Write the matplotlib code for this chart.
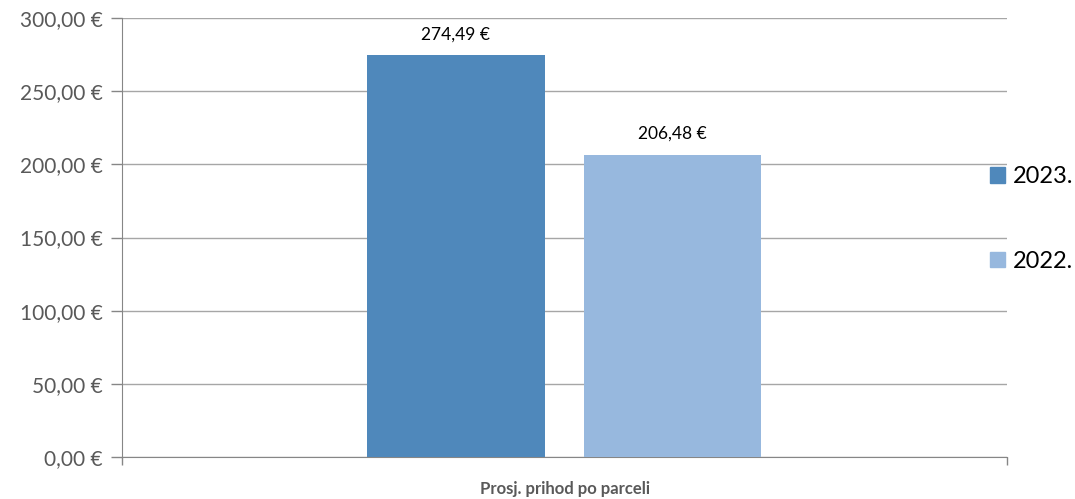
import matplotlib
matplotlib.use("Agg")
import matplotlib.pyplot as plt
from matplotlib.patches import Patch

category = "Prosj. prihod po parceli"
series_names = ["2023.", "2022."]
values = [274.49, 206.48]
colors = ["#4F88BB", "#97B8DE"]
yticks = [0, 50, 100, 150, 200, 250, 300]


def eur(v):
    return f"{v:,.2f} €".replace(",", "X").replace(".", ",").replace("X", ".")


plt.rcParams['font.family'] = ['Lato', 'DejaVu Sans']

fig = plt.figure(figsize=(10.75, 4.99), dpi=100)
ax = fig.add_axes([122/1075, 1-457/499, (1007-122)/1075, (457-18)/499])

width = 0.201
offsets = [-0.1226, 0.1220]
for name, v, c, off in zip(series_names, values, colors, offsets):
    ax.bar(off, v, width=width, color=c, label=name, zorder=3)
    ax.text(off, v + 9, eur(v), ha='center', va='bottom', fontsize=12.5, color='black')

ax.set_xlim(-0.5, 0.5)
ax.set_ylim(0, 300)
ax.set_yticks(yticks)
ax.set_yticklabels([eur(t) for t in yticks], fontsize=15, color='#595959')
ax.yaxis.grid(True, color='#A6A6A6', linewidth=1, zorder=0)
ax.set_xticks([-0.5, 0.5])
ax.set_xticklabels(["", ""])
ax.tick_params(axis='x', length=6, color='#868686', width=1)
ax.tick_params(axis='y', length=8, color='#868686', width=1, pad=6)
for s in ['top', 'right']:
    ax.spines[s].set_visible(False)
ax.spines['left'].set_color('#868686')
ax.spines['bottom'].set_color('#868686')
ax.text(0.5, -0.072, category, transform=ax.transAxes, ha='center', va='center',
        fontsize=12, fontweight='bold', color='#595959')

handles = [Patch(color=c) for c in colors]
fig.legend(handles, series_names, loc='center left', bbox_to_anchor=(990/1075, 1-219/499),
           frameon=False, fontsize=17, handlelength=0.65, handleheight=0.65,
           handletextpad=0.3, labelspacing=2.7, borderaxespad=0, borderpad=0)

fig.savefig("out.png", dpi=100)
